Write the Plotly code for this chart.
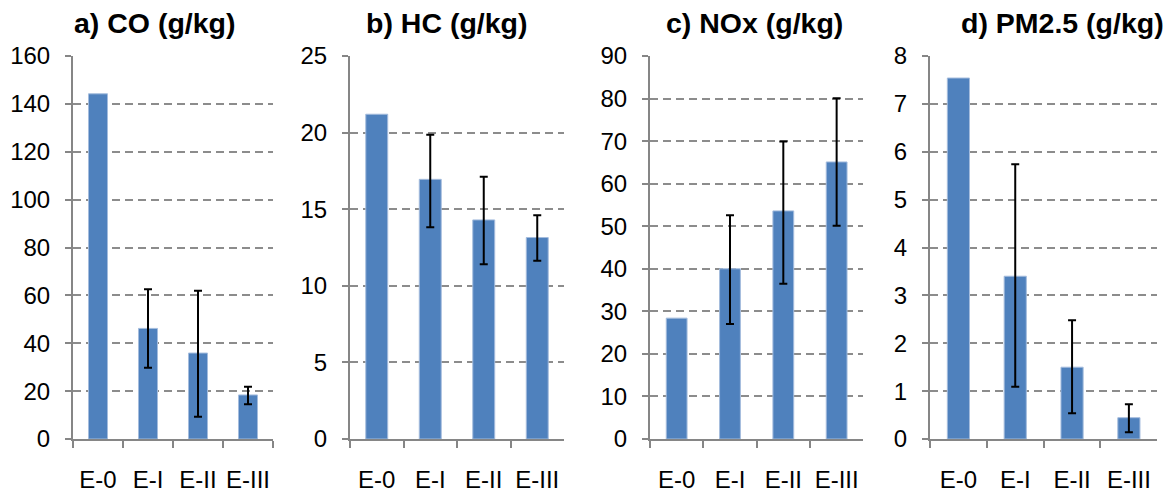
import plotly.graph_objects as go

categories = ["E-0", "E-I", "E-II", "E-III"]

titles = ["a) CO (g/kg)", "b) HC (g/kg)", "c) NOx (g/kg)", "d) PM2.5 (g/kg)"]

co_values = [144.2, 46.2, 35.9, 18.4]
co_err_upper = [None, 62.6, 61.9, 21.8]
co_err_lower = [None, 29.8, 9.3, 14.5]

hc_values = [21.2, 16.95, 14.3, 13.15]
hc_err_upper = [None, 19.86, 17.12, 14.6]
hc_err_lower = [None, 13.82, 11.4, 11.64]

nox_values = [28.4, 40.0, 53.6, 65.1]
nox_err_upper = [None, 52.6, 69.9, 80.1]
nox_err_lower = [None, 27.0, 36.5, 50.1]

pm_values = [7.54, 3.40, 1.50, 0.445]
pm_err_upper = [None, 5.74, 2.48, 0.725]
pm_err_lower = [None, 1.09, 0.54, 0.14]

y_max = [160, 25, 90, 8]
y_step = [20, 5, 10, 1]

series = [
    (co_values, co_err_upper, co_err_lower),
    (hc_values, hc_err_upper, hc_err_lower),
    (nox_values, nox_err_upper, nox_err_lower),
    (pm_values, pm_err_upper, pm_err_lower),
]

# page offset (browser body margin) compensation
OFF = 8
W, H = 1174 - OFF, 492 - OFF
x_px = [(73, 273), (350, 564), (650, 863.3), (930, 1157.3)]
title_cx = [155, 446, 754, 1062]
bar_widths = [0.38, 0.41, 0.39, 0.39]
y_bottom_px, y_top_px = 439, 56
title_y_px = 23

fig = go.Figure()
font_family = "Liberation Sans, Arial, sans-serif"
bar_color = "#4F81BD"
bar_edge = dict(color="#A4BCDD", width=1)

for i, (vals, up, lo) in enumerate(series):
    suffix = "" if i == 0 else str(i + 1)
    plain_x = [c for c, u in zip(categories, up) if u is None]
    plain_y = [v for v, u in zip(vals, up) if u is None]
    fig.add_trace(go.Bar(
        x=plain_x, y=plain_y,
        xaxis="x" + suffix, yaxis="y" + suffix,
        width=bar_widths[i],
        marker=dict(color=bar_color, line=bar_edge),
        showlegend=False,
    ))
    err_x = [c for c, u in zip(categories, up) if u is not None]
    err_y = [v for v, u in zip(vals, up) if u is not None]
    plus = [u - v for v, u in zip(vals, up) if u is not None]
    minus = [v - l for v, l, u in zip(vals, lo, up) if u is not None]
    fig.add_trace(go.Bar(
        x=err_x, y=err_y,
        xaxis="x" + suffix, yaxis="y" + suffix,
        width=bar_widths[i],
        marker=dict(color=bar_color, line=bar_edge),
        error_y=dict(type="data", symmetric=False, array=plus, arrayminus=minus,
                     color="black", thickness=2, width=4),
        showlegend=False,
    ))
    x0, x1 = x_px[i]
    ax = dict(
        domain=[(x0 - OFF) / W, (x1 - OFF) / W],
        anchor="y" + suffix,
        type="category",
        categoryorder="array", categoryarray=categories,
        range=[-0.5, 3.5],
        showline=True, linecolor="#868686", linewidth=2,
        ticks="outside", ticklen=7, tickcolor="#868686", tickwidth=2,
        tickson="boundaries",
        showgrid=False, zeroline=False,
        tickangle=0,
        automargin=False,
        tickfont=dict(family=font_family, size=24, color="black"),
        ticklabelstandoff=18,
        fixedrange=True,
    )
    ay = dict(
        domain=[(H - (y_bottom_px - OFF)) / H, (H - (y_top_px - OFF)) / H],
        anchor="x" + suffix,
        range=[0, y_max[i]],
        tick0=0, dtick=y_step[i],
        showline=True, linecolor="#868686", linewidth=2,
        ticks="outside", ticklen=6, tickcolor="#868686", tickwidth=2,
        showgrid=True, gridcolor="#8C8C8C", gridwidth=1.5, griddash="8px,5px",
        zeroline=False,
        automargin=False,
        tickfont=dict(family=font_family, size=24, color="black"),
        ticklabelstandoff=10,
        fixedrange=True,
    )
    fig.layout["xaxis" + suffix] = ax
    fig.layout["yaxis" + suffix] = ay
    fig.add_annotation(
        text="<b>" + titles[i] + "</b>",
        x=(title_cx[i] - OFF) / W, y=(H - (title_y_px - OFF)) / H,
        xref="paper", yref="paper",
        xanchor="center", yanchor="middle",
        showarrow=False,
        font=dict(family=font_family, size=28.5, color="black"),
    )

fig.update_layout(
    template="none",
    width=W, height=H,
    margin=dict(l=0, r=0, t=0, b=0, pad=0),
    paper_bgcolor="white", plot_bgcolor="white",
    barmode="overlay",
    showlegend=False,
)

fig.write_html("out.html")
